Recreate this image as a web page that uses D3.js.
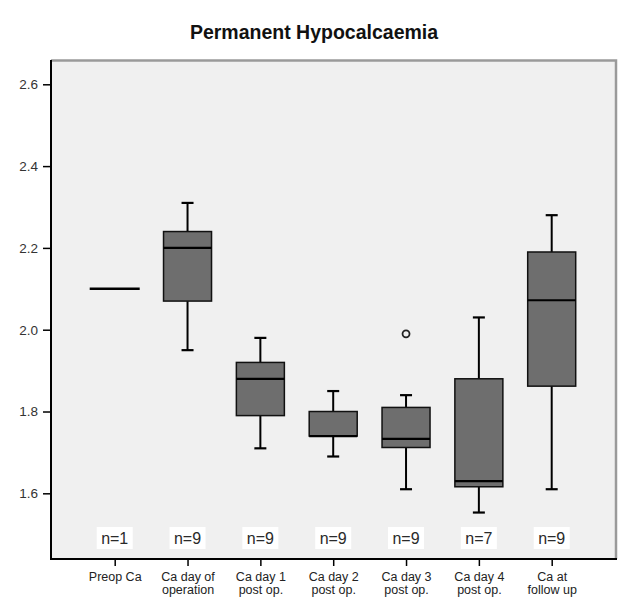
<!DOCTYPE html>
<html>
<head>
<meta charset="utf-8">
<script src="https://cdn.jsdelivr.net/npm/d3@7"></script>
<style>
  html, body { margin: 0; padding: 0; background: #ffffff; }
  svg { display: block; }
  text { font-family: "Liberation Sans", Arial, sans-serif; }
</style>
</head>
<body>
<script>
// ---- data ----
const categories = ["Preop Ca", "Ca day of operation", "Ca day 1 post op.", "Ca day 2 post op.",
                    "Ca day 3 post op.", "Ca day 4 post op.", "Ca at follow up"];
const categoryLines = [["Preop Ca"], ["Ca day of", "operation"], ["Ca day 1", "post op."],
                       ["Ca day 2", "post op."], ["Ca day 3", "post op."], ["Ca day 4", "post op."],
                       ["Ca at", "follow up"]];
const nCounts   = [1, 9, 9, 9, 9, 7, 9];
const whiskLow  = [2.10, 1.95, 1.71, 1.69, 1.61, 1.553, 1.61];
const q1        = [2.10, 2.07, 1.79, 1.74, 1.712, 1.616, 1.862];
const medians   = [2.10, 2.20, 1.88, 1.74, 1.733, 1.63, 2.072];
const q3        = [2.10, 2.24, 1.92, 1.80, 1.81, 1.88, 2.19];
const whiskHigh = [2.10, 2.31, 1.98, 1.85, 1.84, 2.03, 2.28];
const outliers  = [{ category: "Ca day 3 post op.", value: 1.99 }];
const yTicks    = [1.6, 1.8, 2.0, 2.2, 2.4, 2.6];
const title     = "Permanent Hypocalcaemia";

// ---- layout ----
const W = 630, H = 616;
const plot = { left: 51, right: 616, top: 60, bottom: 559 };
const boxW = 48;

const svg = d3.select("body").append("svg").attr("width", W).attr("height", H);

const x = d3.scalePoint().domain(categories).range([114.7, 551.7]);
const y = d3.scaleLinear().domain([1.4394, 2.6594]).range([plot.bottom, plot.top]);

// title
svg.append("text")
  .attr("x", 314).attr("y", 39)
  .attr("text-anchor", "middle")
  .attr("font-size", 19.5).attr("font-weight", "bold").attr("fill", "#111")
  .text(title);

// plot background
svg.append("rect")
  .attr("x", plot.left).attr("y", plot.top)
  .attr("width", plot.right - plot.left).attr("height", plot.bottom - plot.top)
  .attr("fill", "#f0f0f0");

// top / right gray frame
svg.append("path")
  .attr("d", `M${plot.left},${plot.top + 0.5}H${plot.right}V${plot.bottom}`)
  .attr("fill", "none").attr("stroke", "#9a9a9a").attr("stroke-width", 2.5);

const rows = categories.map((c, i) => ({
  c, n: nCounts[i], lo: whiskLow[i], q1: q1[i], med: medians[i], q3: q3[i], hi: whiskHigh[i]
}));

const g = svg.append("g");

rows.forEach(d => {
  const cx = x(d.c);
  if (d.n === 1) {
    g.append("line")
      .attr("x1", cx - boxW / 2 - 1).attr("x2", cx + boxW / 2 + 1)
      .attr("y1", y(d.med)).attr("y2", y(d.med))
      .attr("stroke", "#000").attr("stroke-width", 2.6);
    return;
  }
  // whiskers
  g.append("line").attr("x1", cx).attr("x2", cx).attr("y1", y(d.hi)).attr("y2", y(d.q3))
    .attr("stroke", "#000").attr("stroke-width", 2);
  g.append("line").attr("x1", cx).attr("x2", cx).attr("y1", y(d.q1)).attr("y2", y(d.lo))
    .attr("stroke", "#000").attr("stroke-width", 2);
  [d.hi, d.lo].forEach(v => {
    g.append("line").attr("x1", cx - 6).attr("x2", cx + 6).attr("y1", y(v)).attr("y2", y(v))
      .attr("stroke", "#000").attr("stroke-width", 2.2);
  });
  // box
  g.append("rect")
    .attr("x", cx - boxW / 2).attr("y", y(d.q3))
    .attr("width", boxW).attr("height", y(d.q1) - y(d.q3))
    .attr("fill", "#6e6e6e").attr("stroke", "#111").attr("stroke-width", 1.5);
  // median
  g.append("line")
    .attr("x1", cx - boxW / 2).attr("x2", cx + boxW / 2)
    .attr("y1", y(d.med)).attr("y2", y(d.med))
    .attr("stroke", "#000").attr("stroke-width", 2.2);
});

// outliers
g.selectAll("circle.out").data(outliers).join("circle")
  .attr("class", "out")
  .attr("cx", d => x(d.category)).attr("cy", d => y(d.value))
  .attr("r", 3.5).attr("fill", "#f0f0f0").attr("stroke", "#222").attr("stroke-width", 1.8);

// n labels
const nl = svg.append("g");
rows.forEach(d => {
  const cx = x(d.c);
  nl.append("rect").attr("x", cx - 18).attr("y", 527).attr("width", 36).attr("height", 22)
    .attr("fill", "#ffffff");
  nl.append("text").attr("x", cx).attr("y", 544).attr("text-anchor", "middle")
    .attr("font-size", 16).attr("fill", "#2a2a2a").text("n=" + d.n);
});

// y axis
const yAxis = svg.append("g")
  .attr("transform", `translate(${plot.left},0)`)
  .call(d3.axisLeft(y).tickValues(yTicks).tickFormat(d3.format(".1f")).tickSize(8).tickPadding(5));
yAxis.select(".domain").remove();
yAxis.selectAll(".tick line").attr("stroke", "#000").attr("stroke-width", 1.5);
yAxis.selectAll(".tick text").attr("font-size", 13.5).attr("fill", "#333")
  .attr("font-family", "'Liberation Sans', Arial, sans-serif");

// x axis
const xAxis = svg.append("g")
  .attr("transform", `translate(0,${plot.bottom})`)
  .call(d3.axisBottom(x).tickSize(7).tickFormat(""));
xAxis.select(".domain").remove();
xAxis.selectAll(".tick line").attr("stroke", "#000").attr("stroke-width", 1.5);
xAxis.selectAll(".tick").each(function (c, i) {
  const t = d3.select(this).append("text")
    .attr("text-anchor", "middle").attr("fill", "#222")
    .attr("font-size", 12.5).attr("font-family", "'Liberation Sans', Arial, sans-serif");
  categoryLines[i].forEach((line, k) => {
    t.append("tspan").attr("x", 0).attr("y", 22 + k * 13).text(line);
  });
});

// black left and bottom axis lines
svg.append("path")
  .attr("d", `M${plot.left},${plot.top}V${plot.bottom}H${plot.right + 1}`)
  .attr("fill", "none").attr("stroke", "#000").attr("stroke-width", 2);
</script>
</body>
</html>
